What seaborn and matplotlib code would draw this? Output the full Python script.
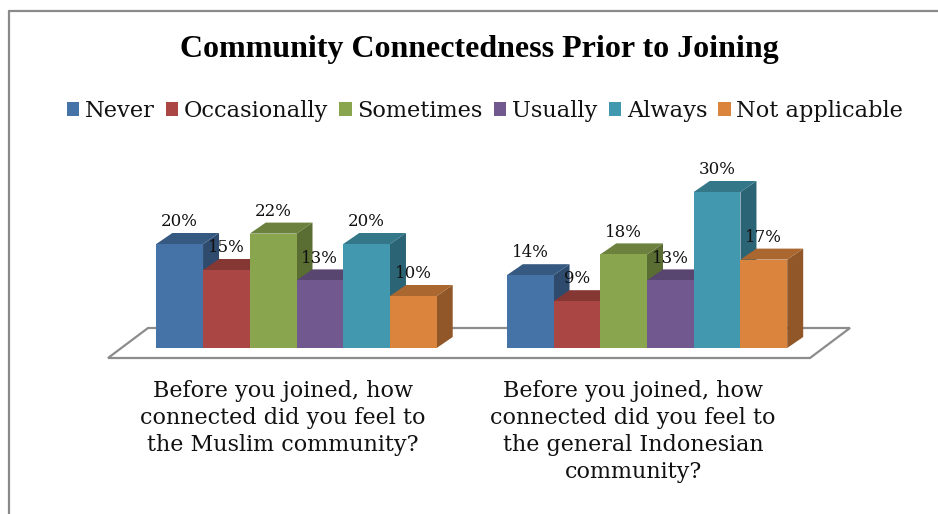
import matplotlib
matplotlib.use("Agg")
import matplotlib.pyplot as plt
from matplotlib.patches import Polygon, Rectangle
from matplotlib.lines import Line2D
from matplotlib.transforms import ScaledTranslation
import matplotlib.colors as mcolors
import numpy as np
import pandas as pd
import seaborn as sns

# ---- data -------------------------------------------------------------
questions = [
    "Before you joined, how\nconnected did you feel to\nthe Muslim community?",
    "Before you joined, how\nconnected did you feel to\nthe general Indonesian\ncommunity?",
]
responses = ["Never", "Occasionally", "Sometimes", "Usually", "Always", "Not applicable"]
muslim_pct = [20, 15, 22, 13, 20, 10]
indonesian_pct = [14, 9, 18, 13, 30, 17]
palette = ["#4572A7", "#AA4643", "#89A54E", "#71588F", "#4198AF", "#DB843D"]
title = "Community Connectedness Prior to Joining"

df = pd.DataFrame({
    "question": [questions[0]] * len(responses) + [questions[1]] * len(responses),
    "response": responses * 2,
    "pct": muslim_pct + indonesian_pct,
})

# ---- figure -----------------------------------------------------------
sns.set_theme(style="white")
plt.rcParams["font.family"] = ["DejaVu Serif", "Liberation Serif"]
plt.rcParams["text.color"] = "#111111"

W, H, DPI = 938, 514, 100
fig = plt.figure(figsize=(W / DPI, H / DPI), dpi=DPI)
fig.patch.set_facecolor("white")

# axes spans the floor area (pixels from the top-left)
ax_l, ax_r, ax_top, ax_bot = 108, 850, 180, 358
ax = fig.add_axes([ax_l / W, 1 - ax_bot / H, (ax_r - ax_l) / W, (ax_bot - ax_top) / H])

sns.barplot(data=df, x="question", y="pct", hue="response", hue_order=responses,
            palette=palette, saturation=1, width=0.8, ax=ax, legend=True,
            linewidth=0, errorbar=None)

# scale: one category step is 350.5 px, 1 percentage point is 5.2 px
px_per_x = 350.5
px_per_y = 5.2
x0 = -(296.5 - ax_l) / px_per_x
y0 = -10 / px_per_y
ax.set_xlim(x0, x0 + (ax_r - ax_l) / px_per_x)
ax.set_ylim(y0, y0 + (ax_bot - ax_top) / px_per_y)

for s in ax.spines.values():
    s.set_visible(False)
ax.set_yticks([])
ax.set_xlabel("")
ax.set_ylabel("")
ax.set_facecolor("none")
ax.tick_params(axis="x", length=0, pad=15.5, labelsize=16, labelcolor="#111111")
for lab in ax.get_xticklabels():
    lab.set_linespacing(1.31)
    lab.set_transform(lab.get_transform() + ScaledTranslation(-14 / DPI, 0, fig.dpi_scale_trans))

# floor of the 3-D plot
floor = Polygon([(0, 0), ((810 - ax_l) / (ax_r - ax_l), 0), (1, 30 / (ax_bot - ax_top)),
                 (40 / (ax_r - ax_l), 30 / (ax_bot - ax_top))],
                closed=True, transform=ax.transAxes, facecolor="white",
                edgecolor="#8c8c8c", linewidth=1.6, zorder=1, clip_on=False)
ax.add_patch(floor)

# depth of each bar
ddx = 16 / px_per_x
ddy = 11 / px_per_y


def shade(c, f):
    r, g, b = mcolors.to_rgb(c)
    return (r * f, g * f, b * f)


bars = [p for p in ax.patches if isinstance(p, Rectangle) and p is not floor and p.get_width() > 0]
bars.sort(key=lambda p: p.get_x())
for k, p in enumerate(bars):
    x, w, h = p.get_x(), p.get_width(), p.get_height()
    base = p.get_facecolor()
    z = 3 + 3 * k
    side = Polygon([(x + w, 0), (x + w + ddx, ddy), (x + w + ddx, h + ddy), (x + w, h)],
                   closed=True, facecolor=shade(base, 0.66), edgecolor="none", zorder=z)
    top = Polygon([(x, h), (x + ddx, h + ddy), (x + w + ddx, h + ddy), (x + w, h)],
                  closed=True, facecolor=shade(base, 0.78), edgecolor="none", zorder=z + 1)
    ax.add_patch(side)
    ax.add_patch(top)
    p.set_zorder(z + 2)

for cont in ax.containers:
    ax.bar_label(cont, fmt="%d%%", padding=10, fontsize=12, color="#111111", zorder=100)

# legend across the top
sns.move_legend(ax, "center", bbox_to_anchor=(485 / W, 1 - 111 / H),
                bbox_transform=fig.transFigure, ncol=6, frameon=False, title=None,
                fontsize=16.2, handlelength=0.55, handleheight=0.55, handletextpad=0.25,
                columnspacing=0.5, borderaxespad=0)
for t in ax.get_legend().get_texts():
    t.set_color("#111111")

fig.text(479.5 / W, 1 - 49 / H, title, ha="center", va="center",
         fontsize=23, fontweight="bold", color="black", family="Liberation Serif")

# chart frame (left and top edges)
fig.add_artist(Line2D([9 / W, 9 / W], [0, 1 - 10.5 / H], color="#8a8a8a", linewidth=1.6,
                      transform=fig.transFigure))
fig.add_artist(Line2D([9 / W, 1], [1 - 10.5 / H, 1 - 10.5 / H], color="#8a8a8a", linewidth=1.6,
                      transform=fig.transFigure))

fig.savefig("out.png", dpi=DPI, facecolor="white")
